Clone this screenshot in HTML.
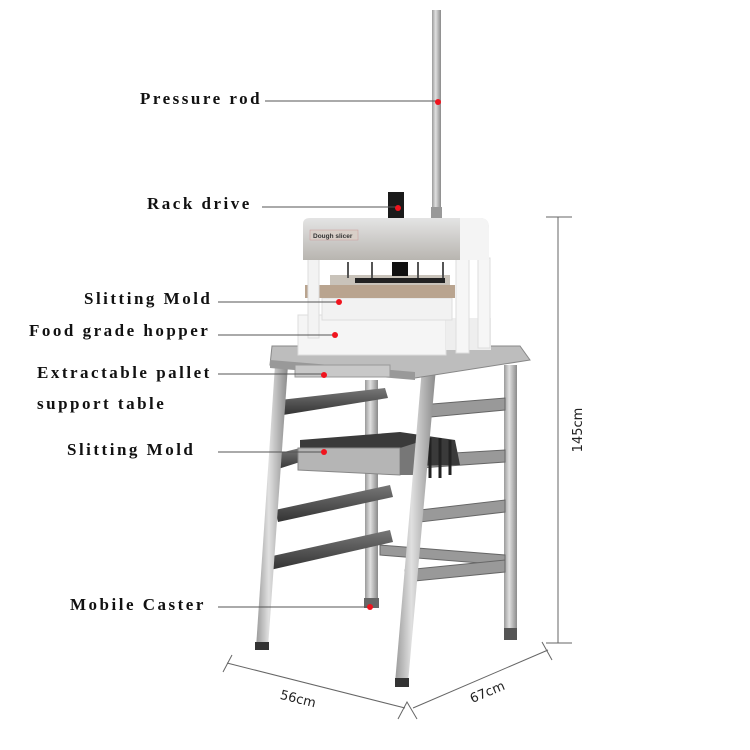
<!DOCTYPE html>
<html><head><meta charset="utf-8"><style>
html,body{margin:0;padding:0;background:#fff;}
svg{display:block}
.lbl{font-family:"Liberation Serif",serif;font-weight:bold;font-size:17px;letter-spacing:2.5px;fill:#111}
.dim{font-family:"DejaVu Sans","Liberation Sans",sans-serif;font-size:13px;fill:#222}
</style></head><body>
<svg width="750" height="750" viewBox="0 0 750 750" xmlns="http://www.w3.org/2000/svg">
<defs>
<linearGradient id="steel" x1="0" x2="1" y1="0" y2="0">
<stop offset="0" stop-color="#9a9a9a"/><stop offset="0.4" stop-color="#e0e0e0"/><stop offset="1" stop-color="#8a8a8a"/></linearGradient>
<linearGradient id="top" x1="0" x2="0" y1="0" y2="1">
<stop offset="0" stop-color="#e4e4e4"/><stop offset="1" stop-color="#b8b5b0"/></linearGradient>
<linearGradient id="rail" x1="0" x2="0" y1="0" y2="1">
<stop offset="0" stop-color="#777"/><stop offset="1" stop-color="#333"/></linearGradient>
</defs>

<polygon points="365,380 378,380 378,605 365,605" fill="url(#steel)"/>
<rect x="364" y="598" width="15" height="10" fill="#666"/>
<polygon points="504,365 517,365 517,640 504,640" fill="url(#steel)"/>
<rect x="504" y="628" width="13" height="12" fill="#555"/>

<g fill="#999" stroke="#666" stroke-width="1">
<polygon points="420,405 505,398 505,410 420,418"/>
<polygon points="420,455 505,450 505,462 420,468"/>
<polygon points="420,510 505,500 505,512 420,522"/>
<polygon points="380,545 505,555 505,565 380,555"/>
<polygon points="405,570 505,560 505,572 405,582"/>
</g>

<g fill="url(#rail)">
<polygon points="280,400 385,388 388,398 283,415"/>
<polygon points="272,455 300,448 300,462 275,470"/>
<polygon points="275,510 390,485 393,497 278,522"/>
<polygon points="268,557 390,530 393,542 270,570"/>
</g>

<polygon points="300,440 400,432 455,440 460,465 300,468" fill="#3a3a3a"/>
<polygon points="298,448 400,448 400,475 298,470" fill="#b5b5b5" stroke="#888"/>
<polygon points="400,448 425,440 425,475 400,475" fill="#777"/>
<g stroke="#222" stroke-width="3">
<line x1="430" y1="438" x2="430" y2="478"/><line x1="440" y1="438" x2="440" y2="478"/><line x1="450" y1="440" x2="450" y2="475"/>
</g>

<polygon points="275,365 288,365 268,648 256,648" fill="url(#steel)"/>
<rect x="255" y="642" width="14" height="8" fill="#333"/>
<polygon points="422,368 436,368 408,683 395,683" fill="url(#steel)"/>
<rect x="395" y="678" width="14" height="9" fill="#333"/>

<polygon points="272,346 520,346 530,360 415,378 270,365" fill="#bdbdbd" stroke="#888"/>
<polygon points="270,360 415,372 415,380 270,368" fill="#999"/>
<rect x="295" y="365" width="95" height="12" fill="#c8c8c8" stroke="#999"/>

<rect x="298" y="315" width="148" height="40" fill="#f5f5f5" stroke="#ddd"/>
<rect x="446" y="318" width="45" height="32" fill="#eee"/>
<rect x="322" y="298" width="130" height="22" fill="#f2f2f2" stroke="#ddd"/>
<rect x="305" y="285" width="150" height="13" fill="#b9a48f"/>
<rect x="330" y="275" width="120" height="10" fill="#c9c3ba"/>
<rect x="355" y="278" width="90" height="5" fill="#222"/>
<rect x="308" y="258" width="11" height="80" fill="#f3f3f3" stroke="#ddd"/>
<rect x="456" y="258" width="13" height="95" fill="#f6f6f6" stroke="#ddd"/>
<rect x="478" y="258" width="12" height="90" fill="#f6f6f6" stroke="#ddd"/>
<g stroke="#555" stroke-width="2"><line x1="348" y1="262" x2="348" y2="278"/><line x1="372" y1="262" x2="372" y2="278"/><line x1="418" y1="262" x2="418" y2="278"/><line x1="443" y1="262" x2="443" y2="278"/></g>
<rect x="392" y="262" width="16" height="14" fill="#111"/>

<path d="M303,260 L303,224 Q303,218 310,218 L480,218 Q489,218 489,228 L489,260 Z" fill="url(#top)"/>
<path d="M460,218 L480,218 Q489,218 489,228 L489,260 L460,260 Z" fill="#f4f4f4"/>
<rect x="310" y="230" width="48" height="10" fill="#d8cfc8" stroke="#c99" stroke-width="0.5"/>
<text x="313" y="238" font-family="Liberation Sans,sans-serif" font-size="6.5" font-weight="bold" fill="#333">Dough slicer</text>

<rect x="388" y="192" width="16" height="26" fill="#1a1a1a"/>
<rect x="432" y="10" width="9" height="200" fill="url(#steel)"/>
<rect x="431" y="207" width="11" height="11" fill="#999"/>

<g stroke="#555" stroke-width="1">
<line x1="265" y1="101" x2="437" y2="101"/>
<line x1="262" y1="207" x2="396" y2="207"/>
<line x1="218" y1="302" x2="339" y2="302"/>
<line x1="218" y1="335" x2="335" y2="335"/>
<line x1="218" y1="374" x2="324" y2="374"/>
<line x1="218" y1="452" x2="324" y2="452"/>
<line x1="218" y1="607" x2="370" y2="607"/>
</g>
<g fill="#f0141e">
<circle cx="438" cy="102" r="3"/><circle cx="398" cy="208" r="3"/>
<circle cx="339" cy="302" r="3"/><circle cx="335" cy="335" r="3"/>
<circle cx="324" cy="375" r="3"/><circle cx="324" cy="452" r="3"/>
<circle cx="370" cy="607" r="3"/>
</g>
<text class="lbl" x="140" y="104">Pressure rod</text>
<text class="lbl" x="147" y="209">Rack drive</text>
<text class="lbl" x="84" y="304">Slitting Mold</text>
<text class="lbl" x="29" y="336">Food grade hopper</text>
<text class="lbl" x="37" y="378">Extractable pallet</text>
<text class="lbl" x="37" y="409">support table</text>
<text class="lbl" x="67" y="455">Slitting Mold</text>
<text class="lbl" x="70" y="610">Mobile Caster</text>

<g stroke="#666" stroke-width="1" fill="none">
<line x1="558" y1="217" x2="558" y2="643"/>
<line x1="546" y1="217" x2="572" y2="217"/>
<line x1="546" y1="643" x2="572" y2="643"/>
<line x1="227" y1="663" x2="405" y2="708"/>
<line x1="223" y1="672" x2="232" y2="655"/>
<line x1="413" y1="708" x2="548" y2="650"/>
<polyline points="398,719 407,702 417,719"/>
<line x1="542" y1="642" x2="552" y2="660"/>
</g>
<text class="dim" transform="translate(582,430) rotate(-90)" text-anchor="middle">145cm</text>
<text class="dim" transform="translate(297,703) rotate(14)" text-anchor="middle">56cm</text>
<text class="dim" transform="translate(489,696) rotate(-23)" text-anchor="middle">67cm</text>
</svg>
</body></html>
